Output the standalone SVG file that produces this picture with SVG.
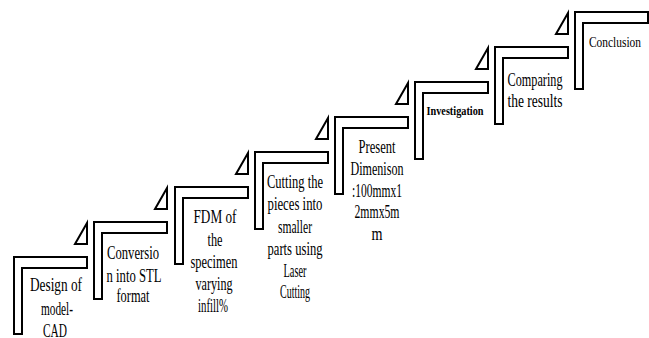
<svg xmlns="http://www.w3.org/2000/svg" width="649" height="338" viewBox="0 0 649 338">
<style>
.step{fill:#fff;stroke:#000;stroke-width:2;stroke-linejoin:miter}
.tri{fill:#fff;stroke:#000;stroke-width:2;stroke-linejoin:miter}
.t{font-family:"Liberation Serif","Times New Roman",serif;font-size:18px;fill:#000;text-anchor:middle}
.s{font-size:15px}
.b{font-size:12px;font-weight:bold}
</style>
<defs>
<path id="L" class="step" d="M0,0 h73 v11 h-65 v66 h-8 z"/>
<polygon id="T" class="tri" points="73,-34 73,-13 61,-13"/>
</defs>
<rect width="649" height="338" fill="#fff"/>
<g id="connectors">
<use href="#T" x="14" y="257"/>
<use href="#T" x="94" y="222"/>
<use href="#T" x="175" y="187"/>
<use href="#T" x="255" y="152"/>
<use href="#T" x="335" y="117"/>
<use href="#T" x="415" y="82"/>
<use href="#T" x="495" y="47"/>
</g>
<g id="step1">
<use href="#L" x="14" y="257"/>
<text class="t"><tspan x="56" y="291" textLength="52" lengthAdjust="spacingAndGlyphs">Design of</tspan><tspan x="57" y="315" textLength="32" lengthAdjust="spacingAndGlyphs">model-</tspan><tspan x="55" y="337" textLength="24" lengthAdjust="spacingAndGlyphs">CAD</tspan></text>
</g>
<g id="step2">
<use href="#L" x="94" y="222"/>
<text class="t"><tspan x="133" y="259" textLength="52" lengthAdjust="spacingAndGlyphs">Conversio</tspan><tspan x="134" y="282" textLength="55" lengthAdjust="spacingAndGlyphs">n into STL</tspan><tspan x="133" y="302" textLength="33" lengthAdjust="spacingAndGlyphs">format</tspan></text>
</g>
<g id="step3">
<use href="#L" x="175" y="187"/>
<text class="t"><tspan x="215" y="223" textLength="43" lengthAdjust="spacingAndGlyphs">FDM of</tspan><tspan x="215" y="246" textLength="15" lengthAdjust="spacingAndGlyphs">the</tspan><tspan x="214" y="268" textLength="47" lengthAdjust="spacingAndGlyphs">specimen</tspan><tspan x="214" y="290" textLength="37" lengthAdjust="spacingAndGlyphs">varying</tspan><tspan x="213" y="312" textLength="30" lengthAdjust="spacingAndGlyphs">infill%</tspan></text>
</g>
<g id="step4">
<use href="#L" x="255" y="152"/>
<text class="t"><tspan x="295" y="188" textLength="56" lengthAdjust="spacingAndGlyphs">Cutting the</tspan><tspan x="295" y="210" textLength="55" lengthAdjust="spacingAndGlyphs">pieces into</tspan><tspan x="295" y="233" textLength="34" lengthAdjust="spacingAndGlyphs">smaller</tspan><tspan x="295" y="255" textLength="55" lengthAdjust="spacingAndGlyphs">parts using</tspan><tspan x="295" y="277" textLength="23" lengthAdjust="spacingAndGlyphs">Laser</tspan><tspan x="295" y="298" textLength="30" lengthAdjust="spacingAndGlyphs">Cutting</tspan></text>
</g>
<g id="step5">
<use href="#L" x="335" y="117"/>
<text class="t"><tspan x="377" y="153" textLength="37" lengthAdjust="spacingAndGlyphs">Present</tspan><tspan x="377" y="175" textLength="53" lengthAdjust="spacingAndGlyphs">Dimenison</tspan><tspan x="377" y="197" textLength="50" lengthAdjust="spacingAndGlyphs">:100mmx1</tspan><tspan x="377" y="218" textLength="45" lengthAdjust="spacingAndGlyphs">2mmx5m</tspan><tspan x="377" y="240" textLength="11" lengthAdjust="spacingAndGlyphs">m</tspan></text>
</g>
<g id="step6">
<use href="#L" x="415" y="82"/>
<text class="t b" x="455" y="115" textLength="57" lengthAdjust="spacingAndGlyphs">Investigation</text>
</g>
<g id="step7">
<use href="#L" x="495" y="47"/>
<text class="t"><tspan x="535" y="86" textLength="55" lengthAdjust="spacingAndGlyphs">Comparing</tspan><tspan x="535" y="107" textLength="55" lengthAdjust="spacingAndGlyphs">the results</tspan></text>
</g>
<g id="step8">
<use href="#L" x="575" y="12"/>
<text class="t s" x="615" y="47" textLength="52" lengthAdjust="spacingAndGlyphs">Conclusion</text>
</g>
</svg>
